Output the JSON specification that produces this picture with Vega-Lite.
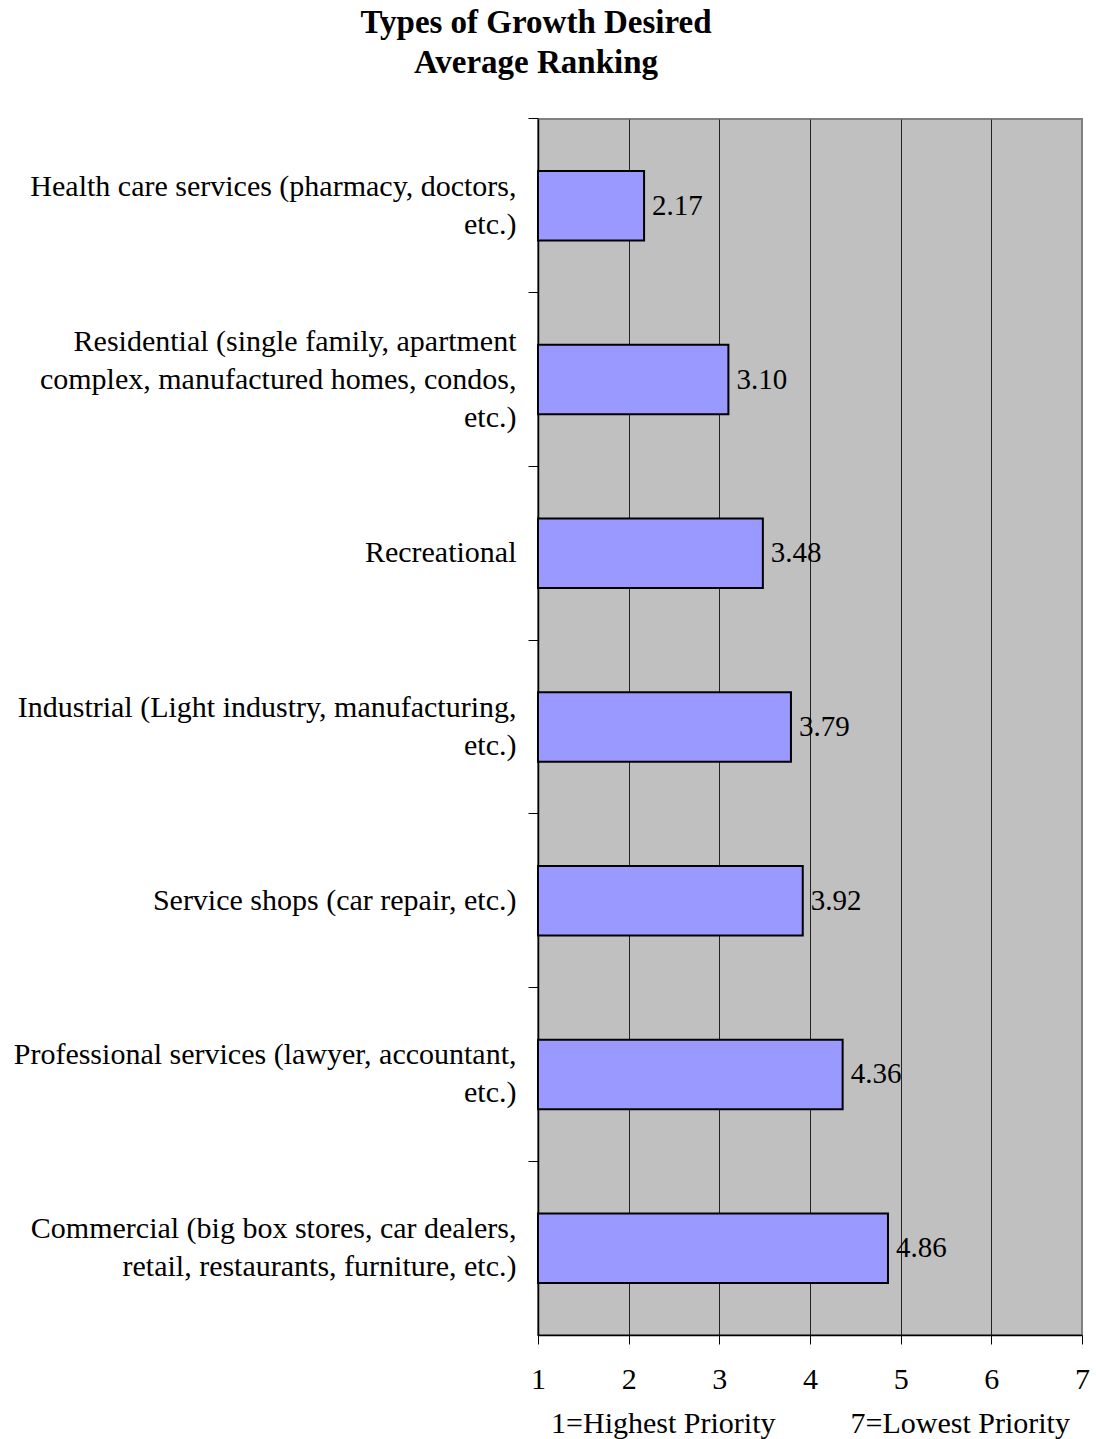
{
  "$schema": "https://vega.github.io/schema/vega-lite/v6.json",
  "autosize": "none",
  "width": 544,
  "height": 1216,
  "padding": {"left": 538, "top": 119, "right": 14, "bottom": 104},
  "background": "white",
  "title": {
    "text": ["Types of Growth Desired", "Average Ranking"],
    "anchor": "middle",
    "frame": "group",
    "dx": -274,
    "offset": 38,
    "font": "Liberation Serif",
    "fontSize": 33,
    "fontWeight": "bold",
    "lineHeight": 40,
    "color": "black"
  },
  "config": {
    "view": {"fill": "#C0C0C0", "stroke": "#808080", "strokeWidth": 2},
    "axis": {"labelFont": "Liberation Serif", "titleFont": "Liberation Serif", "labelColor": "black", "titleColor": "black"}
  },
  "data": {
    "values": [
      {"category": "Health care services (pharmacy, doctors,|etc.)", "value": 2.17},
      {"category": "Residential (single family, apartment|complex, manufactured homes, condos,|etc.)", "value": 3.10},
      {"category": "Recreational", "value": 3.48},
      {"category": "Industrial (Light industry, manufacturing,|etc.)", "value": 3.79},
      {"category": "Service shops (car repair, etc.)", "value": 3.92},
      {"category": "Professional services (lawyer, accountant,|etc.)", "value": 4.36},
      {"category": "Commercial (big box stores, car dealers,|retail, restaurants, furniture, etc.)", "value": 4.86}
    ]
  },
  "encoding": {
    "y": {
      "field": "category",
      "type": "nominal",
      "sort": null,
      "scale": {"paddingInner": 0.6, "paddingOuter": 0.3},
      "axis": {
        "title": null,
        "labelExpr": "split(datum.value, '|')",
        "labelFontSize": 30,
        "labelLineHeight": 38,
        "labelLimit": 600,
        "labelOffset": {
          "condition": [
            {"test": "length(split(datum.value, '|')) == 3", "value": -38},
            {"test": "length(split(datum.value, '|')) == 2", "value": -19}
          ],
          "value": 0
        },
        "bandPosition": -0.75,
        "tickSize": 10,
        "tickColor": "black",
        "domainColor": "black",
        "domainWidth": 1.5,
        "labelPadding": 12,
        "grid": false
      }
    }
  },
  "layer": [
    {
      "mark": {"type": "bar", "fill": "#9999FF", "stroke": "black", "strokeWidth": 2},
      "encoding": {
        "x": {
          "field": "value",
          "type": "quantitative",
          "scale": {"domain": [1, 7], "zero": false, "nice": false},
          "axis": {
            "values": [1, 2, 3, 4, 5, 6, 7],
            "format": "d",
            "title": "1=Highest Priority\u00a0\u00a0\u00a0\u00a0\u00a0\u00a0\u00a0\u00a0\u00a0\u00a07=Lowest Priority",
            "titleFontSize": 30,
            "titleFontWeight": "normal",
            "titlePadding": 14,
            "labelFontSize": 30,
            "labelPadding": 20,
            "labelFlush": false,
            "tickSize": 9,
            "tickColor": "black",
            "domainColor": "black",
            "domainWidth": 1.5,
            "grid": true,
            "gridColor": {"condition": {"test": "datum.value == 7", "value": "#808080"}, "value": "#222222"},
            "gridWidth": 1
          }
        },
        "x2": {"datum": 1}
      }
    },
    {
      "mark": {"type": "text", "align": "left", "baseline": "middle", "dx": 8, "font": "Liberation Serif", "fontSize": 29, "color": "black"},
      "encoding": {
        "x": {"field": "value", "type": "quantitative"},
        "text": {"field": "value", "type": "quantitative", "format": ".2f"}
      }
    }
  ]
}
